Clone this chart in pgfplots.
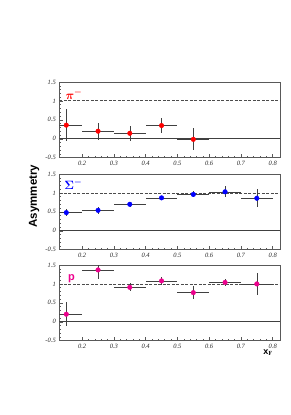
\documentclass[border=0pt]{standalone}
\usepackage{pgfplots}
\pgfplotsset{compat=1.18}
\usepackage{fontspec}
\setsansfont{Liberation Sans}
\newfontfamily\tickfont{Liberation Serif}
\definecolor{frame}{gray}{0.35}
\begin{document}
\begin{tikzpicture}
\path[use as bounding box] (0,0) rectangle (291pt,-415pt);
\pgfplotsset{
  panel/.style={
    scale only axis, width=221pt, height=75.7pt,
    xmin=0.128, xmax=0.824, ymin=-0.5, ymax=1.5,
    xtick={0.2,0.3,0.4,0.5,0.6,0.7,0.8},
    xticklabels={0.2,0.3,0.4,0.5,0.6,0.7,0.8},
    ytick={-0.5,0,0.5,1,1.5},
    yticklabels={-0.5,0,0.5,1,1.5},
    minor x tick num=4, minor y tick num=4,
    tick align=inside, xtick pos=bottom, ytick pos=left,
    major tick length=4pt, minor tick length=2pt,
    axis line style={frame, line width=0.6pt},
    every tick/.style={frame, line width=0.5pt},
    tick label style={font=\tickfont\itshape\fontsize{6.5}{6.5}\selectfont, black!85},
    xticklabel style={yshift=0.5pt},
    clip=true,
  },
  ebar/.style={only marks, mark=*, mark size=2.3pt,
    error bars/x dir=both, error bars/x explicit, error bars/y dir=both, error bars/y explicit,
    error bars/error mark=none, error bars/error bar style={black!75, line width=0.5pt}},
}
% pi-
\begin{axis}[panel, at={(59.3pt,-82pt)}, anchor=north west]
\addplot[black!70, line width=1.1pt, dash pattern=on 3pt off 1.5pt] coordinates {(0.128,1) (0.824,1)};
\addplot[black!75, line width=0.6pt] coordinates {(0.128,0) (0.824,0)};
\addplot[ebar, red, mark options={fill=red, draw=red}] table[x=x,y=y,x error=ex,y error=ey]{
x y ex ey
0.15 0.36 0.05 0.42
0.25 0.20 0.05 0.23
0.35 0.145 0.05 0.20
0.45 0.35 0.05 0.20
0.55 -0.015 0.05 0.29
};
\node[red, font=\boldmath\fontsize{12}{12}\selectfont] at (axis cs:0.174,1.17) {$\pi^{-}$};
\end{axis}
% Sigma-
\begin{axis}[panel, at={(59.3pt,-174pt)}, anchor=north west]
\addplot[black!70, line width=0.5pt, dash pattern=on 3pt off 1.5pt] coordinates {(0.128,1) (0.824,1)};
\addplot[black!75, line width=0.6pt] coordinates {(0.128,0) (0.824,0)};
\addplot[ebar, blue, mark options={fill=blue, draw=blue}] table[x=x,y=y,x error=ex,y error=ey]{
x y ex ey
0.15 0.48 0.05 0.09
0.25 0.54 0.05 0.09
0.35 0.70 0.05 0.06
0.45 0.87 0.05 0.06
0.55 0.96 0.05 0.08
0.65 1.03 0.05 0.15
0.75 0.86 0.05 0.24
};
\node[blue, font=\boldmath\fontsize{12}{12}\selectfont] at (axis cs:0.172,1.23) {$\Sigma^{-}$};
\end{axis}
% p
\begin{axis}[panel, at={(59.3pt,-265pt)}, anchor=north west]
\addplot[black!70, line width=0.5pt, dash pattern=on 3pt off 1.5pt] coordinates {(0.128,1) (0.824,1)};
\addplot[black!75, line width=0.6pt] coordinates {(0.128,0) (0.824,0)};
\addplot[ebar, magenta, mark options={fill=magenta, draw=magenta}] table[x=x,y=y,x error=ex,y error=ey]{
x y ex ey
0.15 0.20 0.05 0.32
0.25 1.37 0.05 0.25
0.35 0.91 0.05 0.11
0.45 1.08 0.05 0.10
0.55 0.77 0.05 0.18
0.65 1.04 0.05 0.10
0.75 1.00 0.05 0.30
};
\node[magenta, font=\sffamily\bfseries\fontsize{11}{11}\selectfont] at (axis cs:0.166,1.14) {p};
\end{axis}
\node[rotate=90, font=\sffamily\bfseries\fontsize{11.5}{11.5}\selectfont] at (34pt,-196pt) {Asymmetry};
\node[font=\sffamily\bfseries\fontsize{9}{9}\selectfont] at (268pt,-353pt) {x$_{\mathbf{F}}$};
\end{tikzpicture}
\end{document}
